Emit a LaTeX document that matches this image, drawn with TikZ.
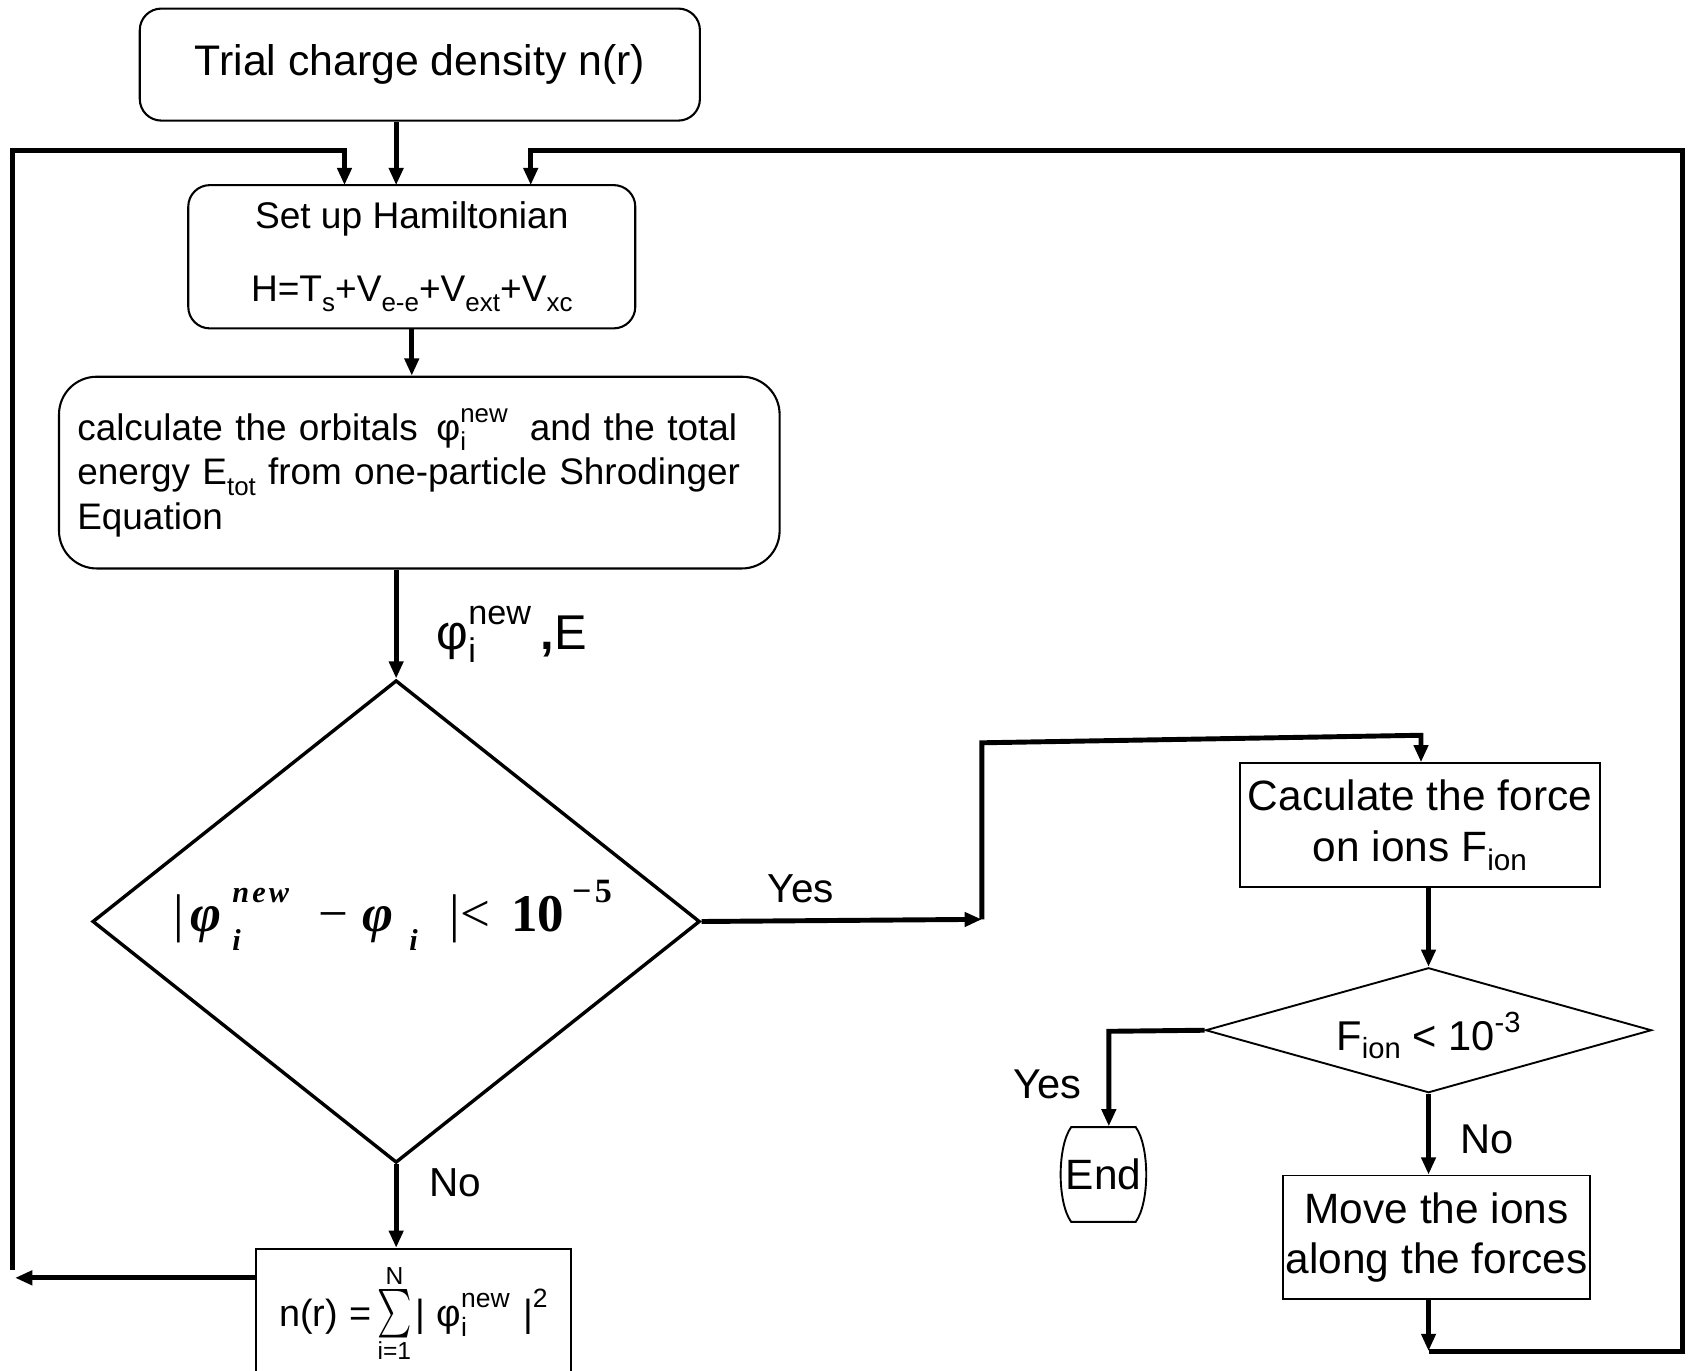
\documentclass[tikz,border=0pt]{standalone}
\usepackage{amsmath}
\usepackage{fontspec}
\setmainfont{Liberation Sans}
\newfontfamily\tnr{Liberation Serif}
\usetikzlibrary{arrows.meta,shapes.geometric}
\makeatletter
\newcommand\smallerfont{\fontsize{\the\dimexpr 0.7\dimexpr\f@size pt\relax\relax}{0pt}\selectfont}
\makeatother
\newcommand\sbs[2][-0.28em]{\raisebox{#1}{\smallerfont #2}}
\newcommand\sps[2][0.5em]{\raisebox{#1}{\smallerfont #2}}
\newcommand\ssp[2]{\rlap{\sbs{#2}}\sps{#1}}
\newcommand\dsm{\fontsize{8pt}{9pt}\selectfont\bfseries\itshape}
\newsavebox\sumb
\newcommand\bigsum[2]{\sbox\sumb{\resizebox*{0.32cm}{0.45cm}{$\sum$}}%
  \rlap{\makebox[\wd\sumb]{\raisebox{0.39cm}{\fontsize{6.5pt}{0pt}\selectfont #2}}}%
  \rlap{\makebox[\wd\sumb]{\raisebox{-0.31cm}{\fontsize{6.5pt}{0pt}\selectfont #1}}}%
  \usebox\sumb}
\tikzset{
  conn/.style={line width=1.3pt},
  arr/.style={line width=1.3pt,-{Triangle[length=1.6mm,width=1.3mm]}},
  rbox/.style={draw,line width=0.55pt,rounded corners=2mm,inner sep=0pt},
  sbox/.style={draw,line width=0.5pt,inner sep=0pt},
  lbl/.style={inner sep=0pt},
}
\begin{document}
\begin{tikzpicture}[x=0.01cm,y=-0.01cm]
\clip (0,0) rectangle (1568,1273);
\fill[white] (0,0) rectangle (1568,1273);

% boxes
\node[rbox,minimum width=5.2cm,minimum height=1.04cm,font=\fontsize{11.3pt}{13.5pt}\selectfont] (trial) at (390,60) {Trial charge density n(r)};
\node[rbox,minimum width=4.15cm,minimum height=1.33cm,align=center,font=\fontsize{9.8pt}{11.8pt}\selectfont] (setup) at (382.5,238.5)
  {Set up Hamiltonian\\[7.5pt]H=T\sbs{s}+V\sbs{e-e}+V\sbs{ext}+V\sbs{xc}};
\node[rbox,rounded corners=3.5mm,minimum width=6.69cm,minimum height=1.78cm,text width=6.35cm,align=left,font=\fontsize{9.75pt}{11.7pt}\selectfont] (calc) at (389.5,439)
  {calculate the orbitals\hspace{0.5em}φ\ssp{new}{i}\hspace{0.6em}and the total\\energy E\sbs{tot} from one-particle Shrodinger\\Equation};
\node[draw,diamond,line width=0.9pt,minimum width=5.64cm,minimum height=4.48cm,inner sep=0pt] (cond) at (368,856) {};
\node[lbl,font=\tnr\fontsize{14pt}{16pt}\selectfont] (condt) at (365,850)
  {|\hspace{0.12em}\textbf{\textit{φ}}\hspace{0.2em}\rlap{\raisebox{-0.35em}{\dsm i}}\raisebox{0.55em}{\dsm n\hspace{0.1em}e\hspace{0.1em}w}\hspace{0.55em}−\hspace{0.27em}\textbf{\textit{φ}}\hspace{0.3em}\raisebox{-0.35em}{\dsm i}\hspace{0.6em}|<\hspace{0.4em}\textbf{10}\hspace{0.15em}\raisebox{0.55em}{\fontsize{9pt}{10pt}\selectfont\bfseries −\hspace{0.1em}5}};
\node[sbox,minimum width=2.92cm,minimum height=1.2cm,font=\fontsize{10pt}{12pt}\selectfont] (nbox) at (384,1220)
  {\raisebox{0.1em}{n(r)\hspace{0.3em}=\hspace{0.15em}\bigsum{i=1}{N}\hspace{0.1em}|\hspace{0.3em}φ\ssp{new}{i}\hspace{0.35em}|\sps{2}}};
\node[sbox,minimum width=3.34cm,minimum height=1.15cm,align=center,font=\fontsize{11.2pt}{13.4pt}\selectfont] (force) at (1319,766.5)
  {Caculate the force\\on ions F\sbs[-0.22em]{ion}};
\node[draw,diamond,line width=0.5pt,minimum width=4.14cm,minimum height=1.16cm,inner sep=0pt] (fion) at (1327,957) {};
\node[lbl,font=\fontsize{11pt}{13pt}\selectfont] (fiont) at (1327,962) {F\sbs[-0.2em]{ion} < 10\sps[0.42em]{-3}};
\node[sbox,minimum width=2.85cm,minimum height=1.15cm,align=center,font=\fontsize{11.2pt}{13.4pt}\selectfont] (move) at (1334.5,1149.5)
  {Move the ions\\along the forces};
\node[lbl,minimum width=0.77cm,minimum height=0.88cm,font=\fontsize{11.2pt}{13pt}\selectfont] (endn) at (1025,1091) {End};
\draw[line width=0.5pt] (995,1047) -- (1055,1047) .. controls (1068,1065) and (1068,1117) .. (1055,1135) -- (995,1135) .. controls (982,1117) and (982,1065) .. (995,1047) -- cycle;

% labels
\node[lbl,anchor=base west,font=\fontsize{12.9pt}{14pt}\selectfont] (phiE) at (405,603) {φ\ssp{new}{i}\hspace{0.2em}\textbf{,}E};
\node[lbl,font=\fontsize{10.7pt}{12pt}\selectfont] (yes1) at (744,826) {Yes};
\node[lbl,font=\fontsize{10.7pt}{12pt}\selectfont] (no1) at (423,1099) {No};
\node[lbl,font=\fontsize{11pt}{12pt}\selectfont] (yes2) at (973,1007) {Yes};
\node[lbl,font=\fontsize{11pt}{12pt}\selectfont] (no2) at (1381,1058) {No};

% coordinates
\coordinate (tin) at (368,172);
\coordinate (sinL) at (320,172);
\coordinate (sinR) at (493,172);
\coordinate (ltop) at (12,140);
\coordinate (lbot) at (12,1180);
\coordinate (lb) at (14,1187);
\coordinate (rtop) at (1563,140);
\coordinate (rbot) at (1563,1255);
\coordinate (mvc) at (1327,1255);
\coordinate (yc) at (912,854);
\coordinate (yu) at (912,690);
\coordinate (yr) at (1320,683);
\coordinate (cy) at (1030,958);

% connectors
\draw[arr] (trial.south -| tin) -- (tin);
\draw[arr] (setup.south) -- (setup.south |- calc.north);
\draw[arr] (calc.south -| cond.north) -- (cond.north);
\draw[arr] (cond.south) -- (cond.south |- nbox.north);
\draw[arr] (nbox.west |- lb) -- (lb);
\draw[arr] (lbot) -- (ltop) -| (sinL);
\draw[arr] (cond.east) -- (yc);
\draw[arr] (yc) -- (yu) -- (yr) -- (yr |- force.north);
\draw[arr] (force.south -| fion.north) -- (fion.north);
\draw[arr] (fion.south) -- (fion.south |- move.north);
\draw[arr] (fion.west) -- (cy) -- (cy |- endn.north);
\draw[arr] (move.south -| mvc) -- (mvc);
\draw[arr] (mvc) -- (rbot) -- (rtop) -| (sinR);
\end{tikzpicture}
\end{document}
